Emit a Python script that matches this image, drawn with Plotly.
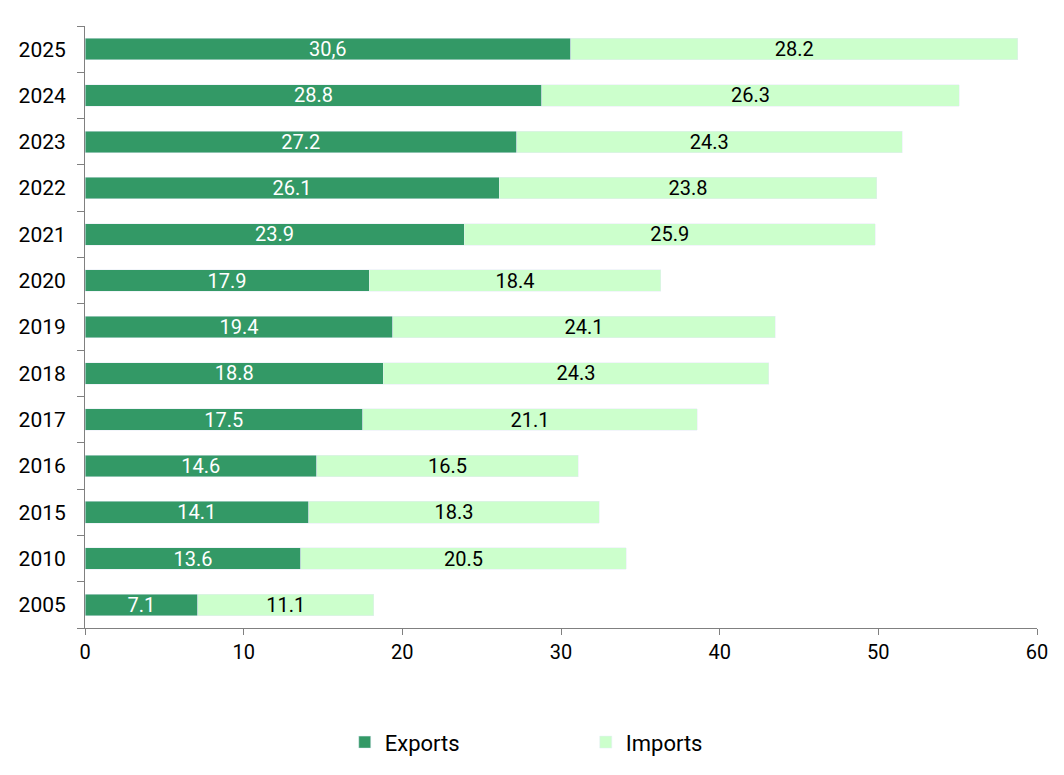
import plotly.graph_objects as go

years = ['2005', '2010', '2015', '2016', '2017', '2018', '2019', '2020',
         '2021', '2022', '2023', '2024', '2025']
exports = [7.1, 13.6, 14.1, 14.6, 17.5, 18.8, 19.4, 17.9, 23.9, 26.1, 27.2, 28.8, 30.6]
imports = [11.1, 20.5, 18.3, 16.5, 21.1, 24.3, 24.1, 18.4, 25.9, 23.8, 24.3, 26.3, 28.2]
# the source writes the 2025 export label with a comma
export_labels = ['7.1', '13.6', '14.1', '14.6', '17.5', '18.8', '19.4', '17.9',
                 '23.9', '26.1', '27.2', '28.8', '30,6']
import_labels = ['%.1f' % v for v in imports]

fig = go.Figure()

fig.add_trace(go.Bar(y=years, x=exports, name='Exports', orientation='h',
                     marker=dict(color='#339966'),
                     text=export_labels, textposition='inside',
                     insidetextanchor='middle', constraintext='none',
                     textfont=dict(color='white', size=20)))

fig.add_trace(go.Bar(y=years, x=imports, name='Imports', orientation='h',
                     marker=dict(color='#ccffcc'),
                     text=import_labels, textposition='inside',
                     insidetextanchor='middle', constraintext='none',
                     textfont=dict(color='black', size=20)))

# page body adds 8px, so margins are set 8px smaller on left/top
fig.update_layout(
    barmode='stack',
    bargap=0.535,
    width=1064, height=775,
    margin=dict(l=77, r=35, t=18, b=155),
    plot_bgcolor='white',
    paper_bgcolor='white',
    font=dict(family='Roboto', size=20, color='black'),
    legend=dict(orientation='h', traceorder='normal', x=0.526, xanchor='center',
                y=-0.155, yanchor='top', entrywidth=196, font=dict(size=22)),
)

fig.update_xaxes(range=[0, 60], dtick=10, showgrid=False, zeroline=False,
                 showline=True, linecolor='#808080', ticks='outside',
                 ticklen=6, tickcolor='#808080', automargin=False)
fig.update_yaxes(type='category', showgrid=False, showline=True,
                 linecolor='#808080', ticks='outside', tickson='boundaries',
                 ticklen=7, tickcolor='#808080', automargin=False,
                 ticklabelstandoff=14, tickfont=dict(size=21))

fig.write_html("out.html")
